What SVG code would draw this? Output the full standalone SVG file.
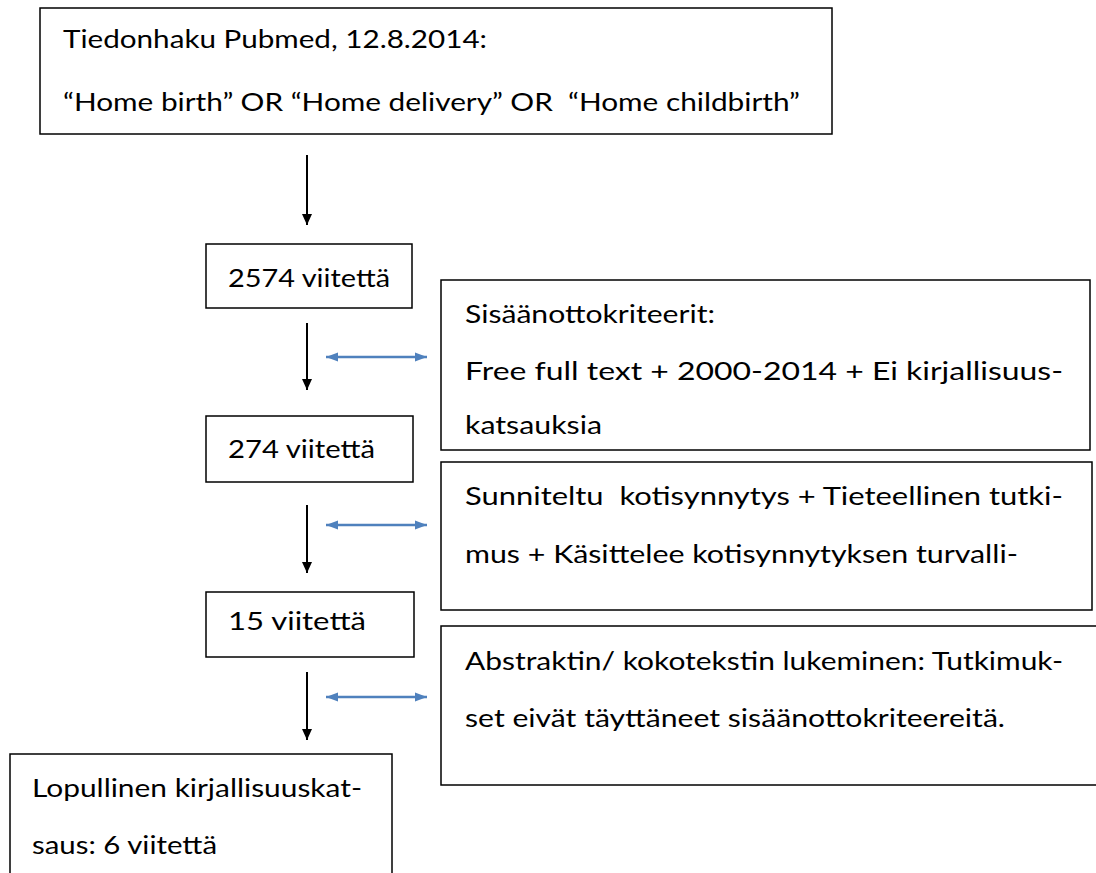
<svg xmlns="http://www.w3.org/2000/svg" width="1096" height="873" viewBox="0 0 1096 873">
<style>
.box{fill:#fff;stroke:#000;stroke-width:1.5}
.t{font-family:Lato,"Liberation Sans",sans-serif;font-size:25px;fill:#000}
.blk{stroke:#000;stroke-width:2;fill:none}
.blu{stroke:#4F81BD;stroke-width:2.6;fill:none}
</style>
<defs>
<marker id="ah" markerUnits="userSpaceOnUse" markerWidth="12" markerHeight="12" viewBox="0 0 12 12" refX="11" refY="6" orient="auto">
<path d="M0,1 L11,6 L0,11 Z" fill="#000"/>
</marker>
<marker id="bh" markerUnits="userSpaceOnUse" markerWidth="13" markerHeight="11" viewBox="0 0 13 11" refX="12" refY="5.5" orient="auto-start-reverse">
<path d="M0,1 L12,5.5 L0,10 Z" fill="#4F81BD"/>
</marker>
</defs>
<rect width="1096" height="873" fill="#fff"/>
<g id="connectors">
<line class="blk" x1="307" y1="155" x2="307" y2="225" marker-end="url(#ah)"/>
<line class="blk" x1="307" y1="323" x2="307" y2="390" marker-end="url(#ah)"/>
<line class="blk" x1="307" y1="505" x2="307" y2="573" marker-end="url(#ah)"/>
<line class="blk" x1="307" y1="672" x2="307" y2="740" marker-end="url(#ah)"/>
<line class="blu" x1="326" y1="357" x2="427" y2="357" marker-start="url(#bh)" marker-end="url(#bh)"/>
<line class="blu" x1="326" y1="525" x2="427" y2="525" marker-start="url(#bh)" marker-end="url(#bh)"/>
<line class="blu" x1="326" y1="697" x2="427" y2="697" marker-start="url(#bh)" marker-end="url(#bh)"/>
</g>
<g id="search">
<rect class="box" x="40" y="8" width="792" height="126"/>
<text class="t" x="63" y="48" textLength="424" lengthAdjust="spacingAndGlyphs">Tiedonhaku Pubmed, 12.8.2014:</text>
<text class="t" x="63" y="111" textLength="737" lengthAdjust="spacingAndGlyphs" xml:space="preserve">“Home birth” OR “Home delivery” OR  “Home childbirth”</text>
</g>
<g id="n2574">
<rect class="box" x="206" y="244" width="206" height="64"/>
<text class="t" x="228" y="287" textLength="162" lengthAdjust="spacingAndGlyphs">2574 viitettä</text>
</g>
<g id="crit1">
<rect class="box" x="441" y="280" width="649" height="170"/>
<text class="t" x="465" y="323" textLength="250" lengthAdjust="spacingAndGlyphs">Sisäänottokriteerit:</text>
<text class="t" x="465" y="380" textLength="598" lengthAdjust="spacingAndGlyphs">Free full text + 2000-2014 + Ei kirjallisuus-</text>
<text class="t" x="465" y="434" textLength="137" lengthAdjust="spacingAndGlyphs">katsauksia</text>
</g>
<g id="n274">
<rect class="box" x="206" y="416" width="207" height="66"/>
<text class="t" x="228" y="458" textLength="147" lengthAdjust="spacingAndGlyphs">274 viitettä</text>
</g>
<g id="crit2">
<rect class="box" x="441" y="462" width="651" height="148"/>
<text class="t" x="465" y="505" textLength="598" lengthAdjust="spacingAndGlyphs" xml:space="preserve">Sunniteltu  kotisynnytys + Tieteellinen tutki-</text>
<text class="t" x="465" y="563" textLength="553" lengthAdjust="spacingAndGlyphs">mus + Käsittelee kotisynnytyksen turvalli-</text>
</g>
<g id="n15">
<rect class="box" x="206" y="592" width="208" height="65"/>
<text class="t" x="228" y="630" textLength="138" lengthAdjust="spacingAndGlyphs">15 viitettä</text>
</g>
<g id="crit3">
<rect class="box" x="441" y="626" width="660" height="159"/>
<text class="t" x="465" y="670" textLength="598" lengthAdjust="spacingAndGlyphs">Abstraktin/ kokotekstin lukeminen: Tutkimuk-</text>
<text class="t" x="465" y="727" textLength="540" lengthAdjust="spacingAndGlyphs">set eivät täyttäneet sisäänottokriteereitä.</text>
</g>
<g id="final">
<rect class="box" x="10" y="754" width="382" height="130"/>
<text class="t" x="32" y="797" textLength="330" lengthAdjust="spacingAndGlyphs">Lopullinen kirjallisuuskat-</text>
<text class="t" x="32" y="854" textLength="185" lengthAdjust="spacingAndGlyphs">saus: 6 viitettä</text>
</g>
</svg>
